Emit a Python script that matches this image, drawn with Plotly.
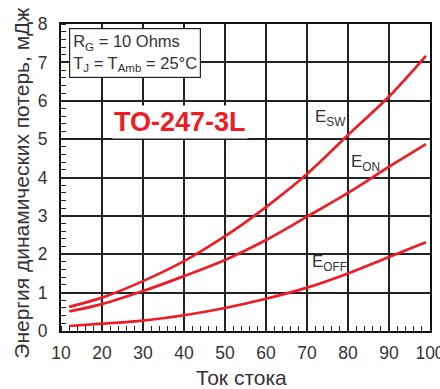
import plotly.graph_objects as go

current = [12, 20, 30, 40, 50, 60, 70, 80, 90, 99]
e_sw = [0.63, 0.87, 1.30, 1.82, 2.47, 3.23, 4.09, 5.11, 6.11, 7.17]
e_on = [0.51, 0.70, 1.04, 1.43, 1.85, 2.37, 2.98, 3.60, 4.28, 4.87]
e_off = [0.13, 0.19, 0.27, 0.41, 0.60, 0.84, 1.13, 1.50, 1.93, 2.31]

x_ticks = [10, 20, 30, 40, 50, 60, 70, 80, 90, 100]
y_ticks = [0, 1, 2, 3, 4, 5, 6, 7, 8]

red = "#ee1c25"
FONT = "Liberation Sans, Arial, sans-serif"

fig = go.Figure()
for y in (e_sw, e_on, e_off):
    fig.add_trace(go.Scatter(x=current, y=y, mode="lines", line=dict(color=red, width=2.7, shape="spline", smoothing=1.0), showlegend=False, hoverinfo="skip"))

fig.update_layout(
    width=440, height=389,
    margin=dict(l=61, r=10, t=24, b=58),
    paper_bgcolor="white", plot_bgcolor="white",
    font=dict(family=FONT, color="#333333"),
    xaxis=dict(range=[10, 100.001], tickvals=x_ticks, showgrid=True, gridcolor="#222222", gridwidth=1.5,
               showline=True, linecolor="#111111", linewidth=2, mirror=True, ticks="", zeroline=False,
               automargin=False,
               tickfont=dict(size=17.5, color="#333333"), ticklabeloverflow="allow", ticklabelstandoff=5,
               minor=dict(dtick=2, ticks="inside", ticklen=5, tickcolor="#222222", tickwidth=1, showgrid=False)),
    yaxis=dict(range=[0, 8], tickvals=y_ticks, showgrid=True, gridcolor="#222222", gridwidth=1.5,
               showline=True, linecolor="#111111", linewidth=2, mirror=True, ticks="", zeroline=False,
               automargin=False,
               tickfont=dict(size=17.5, color="#333333"), ticklabelstandoff=8,
               minor=dict(dtick=0.2, ticks="inside", ticklen=5, tickcolor="#222222", tickwidth=1, showgrid=False)),
)

# axis titles
fig.add_annotation(x=-0.1055, y=0.48, xref="paper", yref="paper", xanchor="center", yanchor="middle",
                   showarrow=False, textangle=-90,
                   text="Энергия динамических потерь, мДж", font=dict(size=21, color="#333333", family=FONT))
fig.add_annotation(x=0.49, y=-0.153, xref="paper", yref="paper", xanchor="center", yanchor="middle",
                   showarrow=False,
                   text="Ток стока", font=dict(size=21, color="#333333", family=FONT))

fig.add_annotation(x=12, y=7.9, xref="x", yref="y", xanchor="left", yanchor="top", showarrow=False, align="left",
                   text="R<sub>G</sub> = 10 Ohms<br>T<sub>J</sub> = T<sub>Amb</sub> = 25°C",
                   font=dict(size=16.5, color="#333333", family=FONT), bordercolor="#222222", borderwidth=1.2,
                   bgcolor="white", borderpad=3)
fig.add_annotation(x=39, y=5.45, xref="x", yref="y", showarrow=False, text="<b>TO-247-3L</b>",
                   font=dict(size=27, color=red, family=FONT), bgcolor="white")
fig.add_annotation(x=71.4, y=5.55, xref="x", yref="y", xanchor="left", yanchor="middle", showarrow=False,
                   text="E<sub>SW</sub>", font=dict(size=17, color="#333333", family=FONT))
fig.add_annotation(x=80.2, y=4.38, xref="x", yref="y", xanchor="left", yanchor="middle", showarrow=False,
                   text="E<sub>ON</sub>", font=dict(size=17, color="#333333", family=FONT))
fig.add_annotation(x=70.8, y=1.78, xref="x", yref="y", xanchor="left", yanchor="middle", showarrow=False,
                   text="E<sub>OFF</sub>", font=dict(size=17, color="#333333", family=FONT))

fig.write_html("out.html")
